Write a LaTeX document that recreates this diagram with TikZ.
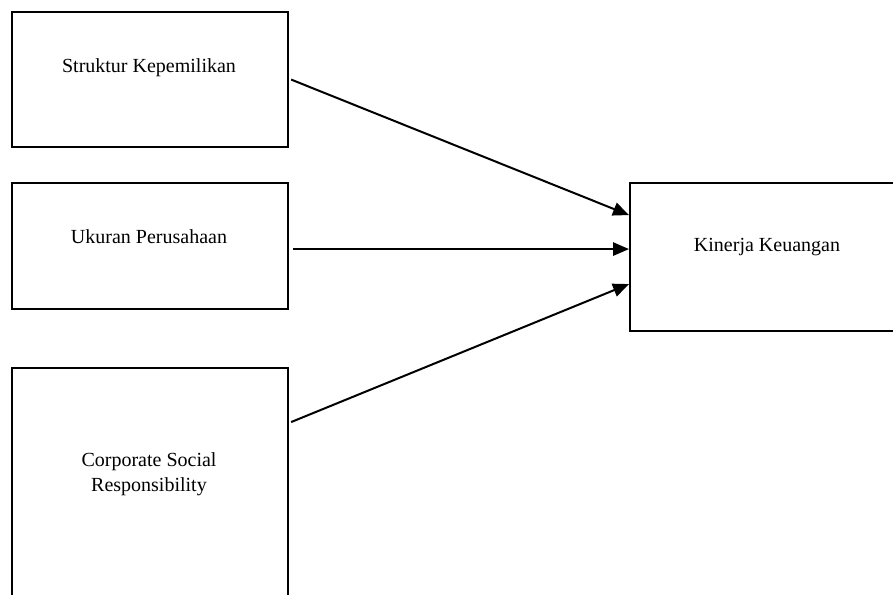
\documentclass[tikz,border=0pt]{standalone}
\usepackage{fontspec}
\setmainfont{Liberation Serif}
\usetikzlibrary{arrows.meta}
\begin{document}
\begin{tikzpicture}[x=0.75pt,y=-0.75pt,
    box/.style={draw, line width=1.6pt, inner sep=0pt, anchor=north west},
    txt/.style={font=\fontsize{15}{18.5}\selectfont, align=center},
    arr/.style={-{Triangle[length=12pt,width=10pt]}, line width=1.5pt}]
        \useasboundingbox (0,0) rectangle (893,595);
        \clip (0,0) rectangle (893,595);
        \node[box, minimum width=207pt, minimum height=101.25pt] (struktur) at (11,11) {};
        \node[box, minimum width=207pt, minimum height=94.5pt] (ukuran) at (11,182) {};
        \node[box, minimum width=207pt, minimum height=204.75pt] (csr) at (11,367) {};
        \node[box, minimum width=218.25pt, minimum height=111pt] (kinerja) at (629,182) {};
        \node[txt] (tstruktur) at (149,68) {Struktur Kepemilikan};
        \node[txt] (tukuran) at (149,237) {Ukuran Perusahaan};
        \node[txt] (tcsr) at (149,474) {Corporate Social\\Responsibility};
        \node[txt] (tkinerja) at (767,247) {Kinerja Keuangan};
        \draw[arr] ([xshift=1.5pt]struktur.east) -- ([yshift=31.5pt]kinerja.west);
        \draw[arr] ([xshift=3pt,yshift=-2.25pt]ukuran.east) -- ([yshift=6pt]kinerja.west);
        \draw[arr] ([xshift=1.5pt,yshift=61.875pt]csr.east) -- ([yshift=-20.25pt]kinerja.west);
    \end{tikzpicture}
\end{document}
